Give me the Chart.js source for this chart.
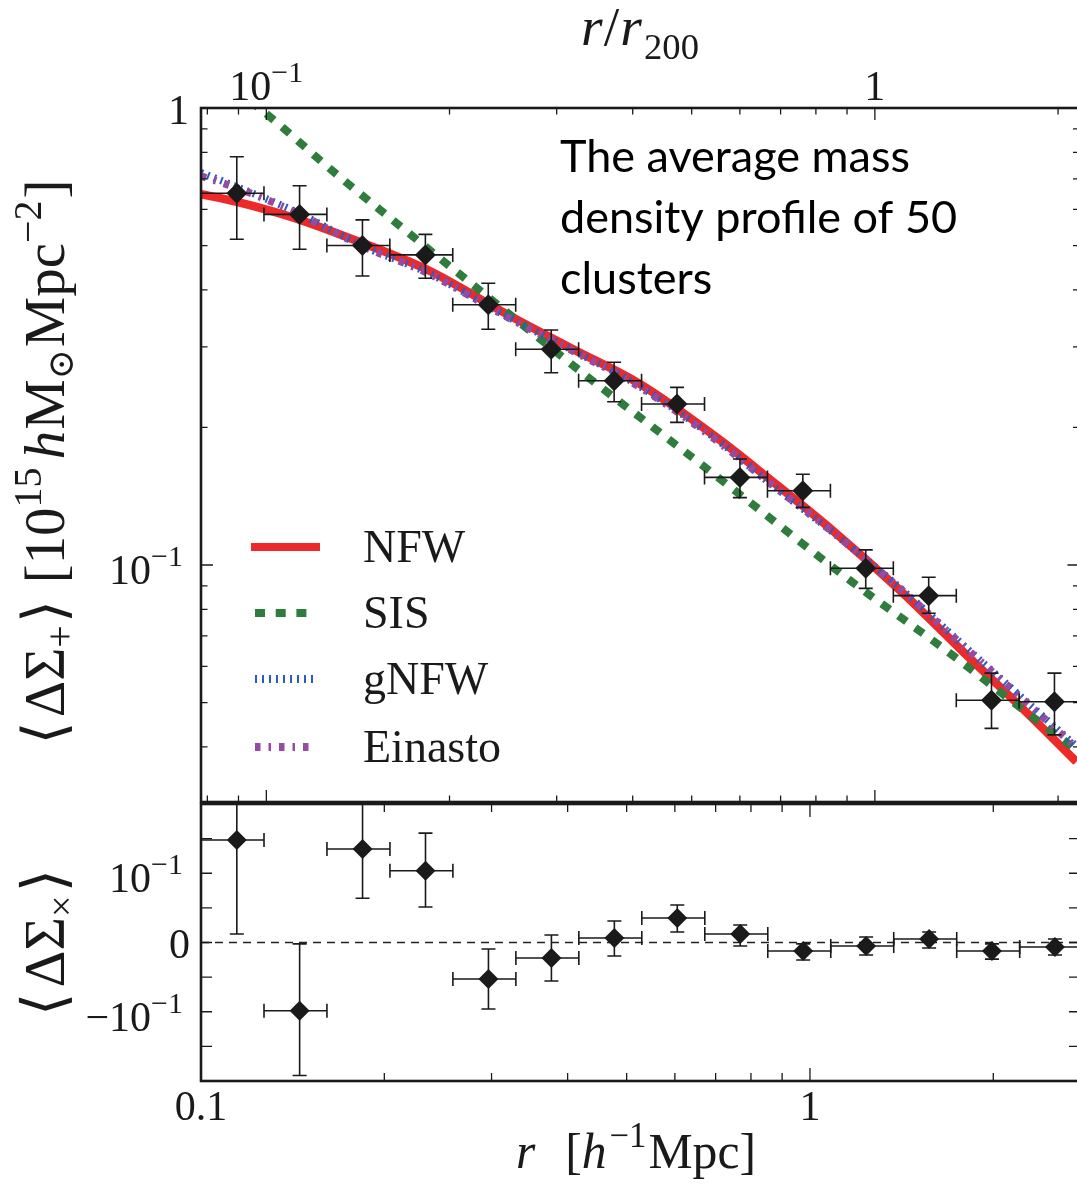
<!DOCTYPE html>
<html>
<head>
<meta charset="utf-8">
<script src="https://cdn.jsdelivr.net/npm/chart.js@4/dist/chart.umd.min.js"></script>
<style>
  html, body { margin: 0; padding: 0; background: #fff; overflow: hidden; }
  #wrap { position: relative; width: 1077px; height: 1187px; overflow: hidden; background: #fff; }
  #wrap canvas { position: absolute; left: 0; top: 0; }
</style>
</head>
<body>
<div id="wrap">
  <canvas id="topChart" width="1090" height="1187"></canvas>
  <canvas id="botChart" width="1090" height="1187"></canvas>
</div>
<script>
// ---------------- data ----------------
// radial bin edges [h^-1 Mpc]
const binEdges = [0.1, 0.1269, 0.1610, 0.2043, 0.2592, 0.3289, 0.4173, 0.5295, 0.6719, 0.8526, 1.0818, 1.3726, 1.7417, 2.2100, 2.8041];
// radius of each data point [h^-1 Mpc]
const radius = [0.1145, 0.1452, 0.1842, 0.2337, 0.2965, 0.3762, 0.4773, 0.6055, 0.7682, 0.9746, 1.2365, 1.569, 1.990, 2.525];
// <ΔΣ+>
const tangential     = [0.651, 0.585, 0.500, 0.477, 0.371, 0.2965, 0.253, 0.225, 0.1555, 0.1454, 0.0984, 0.0857, 0.0506, 0.0502];
const tangentialHigh = [0.782, 0.676, 0.569, 0.529, 0.4135, 0.3267, 0.2778, 0.2447, 0.1706, 0.158, 0.1079, 0.0940, 0.0580, 0.0580];
const tangentialLow  = [0.516, 0.491, 0.429, 0.424, 0.328, 0.2635, 0.2277, 0.2052, 0.1404, 0.1337, 0.0889, 0.0784, 0.0439, 0.0425];
// <ΔΣx>
const cross     = [0.148, -0.0985, 0.135, 0.1037, -0.0527, -0.0224, 0.0065, 0.0354, 0.0123, -0.0123, -0.005, 0.005, -0.0123, -0.0065];
const crossHigh = [0.284, -0.002, 0.206, 0.158, -0.0094, 0.0108, 0.031, 0.0542, 0.0253, -0.002, 0.008, 0.0152, -0.002, 0.005];
const crossLow  = [0.0123, -0.192, 0.064, 0.0513, -0.096, -0.0556, -0.0195, 0.0152, -0.005, -0.0253, -0.018, -0.008, -0.024, -0.018];

// model curves
const modelR   = [0.1, 0.1146, 0.1427, 0.1838, 0.2359, 0.318, 0.4081, 0.5259, 0.7115, 0.8499, 1.091, 1.405, 1.783, 2.324, 2.744];
const nfw      = [0.648, 0.623, 0.574, 0.507, 0.442, 0.354, 0.297, 0.249, 0.188, 0.156, 0.119, 0.0882, 0.0648, 0.0462, 0.0371];
const gnfw     = [0.722, 0.672, 0.594, 0.500, 0.436, 0.350, 0.295, 0.246, 0.186, 0.153, 0.118, 0.0893, 0.0670, 0.0489, 0.0401];
const einasto  = [0.710, 0.668, 0.592, 0.499, 0.435, 0.349, 0.294, 0.245, 0.185, 0.153, 0.118, 0.0891, 0.0668, 0.0487, 0.0398];
const sisR     = [0.1204, 0.1288, 0.166, 0.2122, 0.2904, 0.4239, 0.6185, 0.7966, 1.163, 1.698, 2.213, 2.744];
const sis      = [1.036, 0.965, 0.721, 0.552, 0.394, 0.263, 0.1785, 0.1374, 0.0927, 0.0642, 0.0489, 0.0394];

// axis ranges and ticks
const rRange = [0.1, 2.776];
const rScaledRange = [0.0781, 2.169];       // r / r200
const plusRange = [0.0303, 1];
const crossRange = [-0.2, 0.2];
const rMajor = [0.1, 1];
const rMinor = [0.2, 0.3, 0.4, 0.5, 0.6, 0.7, 0.8, 0.9, 2];
const rScaledMajor = [0.1, 1];
const rScaledMinor = [0.08, 0.09, 0.2, 0.3, 0.4, 0.5, 0.6, 0.7, 0.8, 0.9, 2];
const plusMajor = [1, 0.1];
const plusMinor = [0.04, 0.05, 0.06, 0.07, 0.08, 0.09, 0.2, 0.3, 0.4, 0.5, 0.6, 0.7, 0.8, 0.9];
const crossMajor = [0.1, 0, -0.1];
const crossMinor = [0.15, 0.05, -0.05, -0.15];
const legendLabels = ['NFW', 'SIS', 'gNFW', 'Einasto'];
const annotationLines = ['The average mass', 'density profile of 50', 'clusters'];

// ---------------- styles ----------------
const INK = '#1a1a1a';
const C_NFW = '#ec2a2a', C_SIS = '#2e7d3c', C_GNFW = '#2c5cc2', C_EIN = '#954ba1';
const SERIF = '"Liberation Serif", "DejaVu Serif", serif';
const fnt = (size, style) => (style ? style + ' ' : '') + size + 'px ' + SERIF;

// runs: {t, size, style, rise, gap}
function runsWidth(ctx, runs, k) {
  let w = 0;
  for (const r of runs) { ctx.font = fnt(r.size * k, r.style); w += ctx.measureText(r.t).width + (r.gap || 0) * k; }
  return w;
}
function drawRich(ctx, runs, x, y, align, target) {
  let k = 1;
  if (target) k = target / runsWidth(ctx, runs, 1);
  const w = runsWidth(ctx, runs, k);
  let cx = align === 'right' ? x - w : align === 'center' ? x - w / 2 : x;
  ctx.textAlign = 'left';
  ctx.textBaseline = 'alphabetic';
  for (const r of runs) {
    ctx.font = fnt(r.size * k, r.style);
    ctx.fillText(r.t, cx, y - (r.rise || 0) * k);
    cx += ctx.measureText(r.t).width + (r.gap || 0) * k;
  }
}
const supLabel = (base, exp) => [{ t: base, size: 42 }, { t: exp, size: 30, rise: 18 }];
const plainLabel = (t) => [{ t, size: 42 }];

function drawTicks(ctx, scale, values, len, side, area) {
  ctx.beginPath();
  for (const v of values) {
    const p = scale.getPixelForValue(v);
    if (side === 'left')   { ctx.moveTo(area.left, p);  ctx.lineTo(area.left + len, p); }
    if (side === 'right')  { ctx.moveTo(area.right, p); ctx.lineTo(area.right - len, p); }
    if (side === 'top')    { ctx.moveTo(p, area.top);   ctx.lineTo(p, area.top + len); }
    if (side === 'bottom') { ctx.moveTo(p, area.bottom); ctx.lineTo(p, area.bottom - len); }
  }
  ctx.stroke();
}

const errorBarPlugin = {
  id: 'errorBars',
  beforeDatasetDraw(chart, args) {
    const ds = chart.data.datasets[args.index];
    if (!ds.errorBars) return;
    const { ctx, chartArea: a } = chart;
    const xs = chart.scales.x, ys = chart.scales.y, e = ds.errorBars;
    ctx.save();
    ctx.beginPath(); ctx.rect(a.left, a.top, a.right - a.left, a.bottom - a.top); ctx.clip();
    ctx.strokeStyle = INK; ctx.lineWidth = 1.6;
    const cap = 7;
    ds.data.forEach((p, i) => {
      const px = xs.getPixelForValue(p.x), py = ys.getPixelForValue(p.y);
      const x0 = xs.getPixelForValue(e.xLo[i]), x1 = xs.getPixelForValue(e.xHi[i]);
      const y0 = ys.getPixelForValue(e.yLo[i]), y1 = ys.getPixelForValue(e.yHi[i]);
      ctx.beginPath();
      ctx.moveTo(x0, py); ctx.lineTo(x1, py);
      ctx.moveTo(px, y0); ctx.lineTo(px, y1);
      ctx.moveTo(x0, py - cap); ctx.lineTo(x0, py + cap);
      ctx.moveTo(x1, py - cap); ctx.lineTo(x1, py + cap);
      ctx.moveTo(px - cap, y0); ctx.lineTo(px + cap, y0);
      ctx.moveTo(px - cap, y1); ctx.lineTo(px + cap, y1);
      ctx.stroke();
    });
    ctx.restore();
  }
};

const topDecor = {
  id: 'topDecor',
  afterDraw(chart) {
    const { ctx, chartArea: a } = chart;
    const ys = chart.scales.y, xt = chart.scales.xTop;
    ctx.save();
    ctx.strokeStyle = INK; ctx.fillStyle = INK;
    ctx.lineWidth = 1.3;
    drawTicks(ctx, ys, plusMajor, 12, 'left', a);
    drawTicks(ctx, ys, plusMinor, 6.5, 'left', a);
    drawTicks(ctx, ys, plusMajor, 12, 'right', a);
    drawTicks(ctx, ys, plusMinor, 6.5, 'right', a);
    drawTicks(ctx, xt, rScaledMajor, 12, 'top', a);
    drawTicks(ctx, xt, rScaledMinor, 6.5, 'top', a);
    drawTicks(ctx, xt, rScaledMajor, 12, 'bottom', a);
    drawTicks(ctx, xt, rScaledMinor, 6.5, 'bottom', a);
    ctx.lineWidth = 2.6;
    ctx.strokeRect(a.left, a.top, a.right - a.left, a.bottom - a.top);
    // y tick labels
    drawRich(ctx, plainLabel('1'), a.left - 12, ys.getPixelForValue(1) + 16, 'right');
    drawRich(ctx, supLabel('10', '−1'), a.left - 18, ys.getPixelForValue(0.1) + 19, 'right');
    // top tick labels
    drawRich(ctx, supLabel('10', '−1'), xt.getPixelForValue(0.1), a.top - 8, 'center');
    drawRich(ctx, plainLabel('1'), xt.getPixelForValue(1), a.top - 8, 'center');
    // top axis title r/r200
    drawRich(ctx, [
      { t: 'r', size: 50, style: 'italic', gap: 1 },
      { t: '/', size: 50, gap: 1 },
      { t: 'r', size: 50, style: 'italic', gap: 2 },
      { t: '200', size: 33, rise: -13 }
    ], 640, 45, 'center', 118);
    // y axis title
    ctx.save();
    ctx.translate(64, 462);
    ctx.rotate(-Math.PI / 2);
    drawRich(ctx, [
      { t: '⟨', size: 56, gap: 4 },
      { t: 'ΔΣ', size: 54 },
      { t: '+', size: 38, rise: -9, gap: 2 },
      { t: '⟩', size: 56, gap: 16 },
      { t: '[10', size: 54 },
      { t: '15', size: 38, rise: 22, gap: 8 },
      { t: 'h', size: 54, style: 'italic', gap: 1 },
      { t: 'M', size: 54 },
      { t: '⊙', size: 34, rise: -9, gap: 2 },
      { t: 'Mpc', size: 54 },
      { t: '−2', size: 38, rise: 22, gap: 2 },
      { t: ']', size: 54 }
    ], 0, 0, 'center', 565);
    ctx.restore();
    // legend
    const rows = [547, 613, 679, 747];
    const styles = [
      { c: C_NFW, w: 8, d: [] },
      { c: C_SIS, w: 8, d: [10, 10.7] },
      { c: C_GNFW, w: 8, d: [2, 5] },
      { c: C_EIN, w: 8, d: [5.5, 8, 2.5, 8] }
    ];
    legendLabels.forEach((lab, i) => {
      const s = styles[i];
      ctx.save();
      ctx.strokeStyle = s.c; ctx.lineWidth = s.w; ctx.lineCap = 'butt';
      ctx.setLineDash(s.d);
      ctx.beginPath();
      ctx.moveTo(i === 0 ? 251 : 255, rows[i]);
      ctx.lineTo(i === 0 ? 320 : 313, rows[i]);
      ctx.stroke();
      ctx.restore();
      ctx.font = fnt(46); ctx.textAlign = 'left'; ctx.textBaseline = 'alphabetic';
      ctx.fillText(lab, 363, rows[i] + 15);
    });
    // annotation
    ctx.font = '45px Lato, "Open Sans", sans-serif';
    ctx.fillStyle = '#000';
    ctx.textAlign = 'left';
    annotationLines.forEach((t, i) => ctx.fillText(t, 560, 172 + i * 61));
    ctx.restore();
  }
};

const botDecor = {
  id: 'botDecor',
  afterDraw(chart) {
    const { ctx, chartArea: a } = chart;
    const xs = chart.scales.x, ys = chart.scales.y;
    ctx.save();
    ctx.strokeStyle = INK; ctx.fillStyle = INK;
    ctx.lineWidth = 1.3;
    drawTicks(ctx, ys, crossMajor, 11, 'left', a);
    drawTicks(ctx, ys, crossMinor, 11, 'left', a);
    drawTicks(ctx, ys, crossMajor, 11, 'right', a);
    drawTicks(ctx, ys, crossMinor, 11, 'right', a);
    drawTicks(ctx, xs, rMajor, 13, 'bottom', a);
    drawTicks(ctx, xs, rMinor, 8, 'bottom', a);
    drawTicks(ctx, xs, rMajor, 13, 'top', a);
    drawTicks(ctx, xs, rMinor, 8, 'top', a);
    ctx.lineWidth = 2.6;
    ctx.strokeRect(a.left, a.top, a.right - a.left, a.bottom - a.top);
    // y tick labels
    drawRich(ctx, supLabel('10', '−1'), a.left - 18, ys.getPixelForValue(0.1) + 19, 'right');
    drawRich(ctx, plainLabel('0'), a.left - 11, ys.getPixelForValue(0) + 15, 'right');
    drawRich(ctx, [{ t: '−', size: 42 }].concat(supLabel('10', '−1')), a.left - 18, ys.getPixelForValue(-0.1) + 19, 'right');
    // x tick labels
    drawRich(ctx, plainLabel('0.1'), xs.getPixelForValue(0.1), 1120, 'center');
    drawRich(ctx, plainLabel('1'), xs.getPixelForValue(1), 1120, 'center');
    // x axis title
    drawRich(ctx, [
      { t: 'r', size: 50, style: 'italic', gap: 30 },
      { t: '[', size: 50 },
      { t: 'h', size: 50, style: 'italic', gap: 3 },
      { t: '−1', size: 35, rise: 21, gap: 2 },
      { t: 'Mpc]', size: 50 }
    ], 636, 1168, 'center', 240);
    // y axis title
    ctx.save();
    ctx.translate(64, (a.top + a.bottom) / 2);
    ctx.rotate(-Math.PI / 2);
    drawRich(ctx, [
      { t: '⟨', size: 56, gap: 5 },
      { t: 'ΔΣ', size: 54 },
      { t: '×', size: 36, rise: -9, gap: 3 },
      { t: '⟩', size: 56 }
    ], 0, 0, 'center', 147);
    ctx.restore();
    ctx.restore();
  }
};

function pts(xs, ys) { return xs.map((x, i) => ({ x, y: ys[i] })); }
function lineDs(label, xs, ys, color, width, dash, order) {
  return {
    label, data: pts(xs, ys), showLine: true, pointRadius: 0, pointHoverRadius: 0,
    borderColor: color, borderWidth: width, borderDash: dash, borderCapStyle: 'butt',
    cubicInterpolationMode: 'monotone', fill: false, order, clip: 0
  };
}

Chart.defaults.animation = false;

new Chart(document.getElementById('topChart'), {
  type: 'scatter',
  data: {
    datasets: [
      {
        label: 'stacked ΔΣ+', data: pts(radius, tangential), order: 0,
        pointStyle: 'rectRot', pointRadius: 10.5, pointHoverRadius: 10.5,
        backgroundColor: INK, borderColor: INK, pointBorderWidth: 0,
        errorBars: { xLo: binEdges.slice(0, -1), xHi: binEdges.slice(1), yLo: tangentialLow, yHi: tangentialHigh }
      },
      lineDs('Einasto', modelR, einasto, C_EIN, 7.5, [5.5, 8, 2.5, 8], 1),
      lineDs('gNFW', modelR, gnfw, C_GNFW, 7.5, [2, 5], 2),
      lineDs('SIS', sisR, sis, C_SIS, 8, [10, 10.7], 3),
      lineDs('NFW', modelR, nfw, C_NFW, 8.5, [], 4)
    ]
  },
  options: {
    responsive: false, animation: false, events: [],
    layout: { padding: { left: 201, top: 108, right: 10, bottom: 1187 - 802 } },
    plugins: { legend: { display: false }, tooltip: { enabled: false } },
    scales: {
      x: { type: 'logarithmic', min: rRange[0], max: rRange[1], display: false },
      xTop: { type: 'logarithmic', axis: 'x', position: 'top', min: rScaledRange[0], max: rScaledRange[1], display: false },
      y: { type: 'logarithmic', min: plusRange[0], max: plusRange[1], display: false }
    }
  },
  plugins: [errorBarPlugin, topDecor]
});

new Chart(document.getElementById('botChart'), {
  type: 'scatter',
  data: {
    datasets: [
      {
        label: 'stacked ΔΣx', data: pts(radius, cross), order: 0,
        pointStyle: 'rectRot', pointRadius: 10, pointHoverRadius: 10,
        backgroundColor: INK, borderColor: INK, pointBorderWidth: 0,
        errorBars: { xLo: binEdges.slice(0, -1), xHi: binEdges.slice(1), yLo: crossLow, yHi: crossHigh }
      },
      {
        label: 'zero', data: pts(rRange, [0, 0]), showLine: true, pointRadius: 0,
        borderColor: '#222', borderWidth: 1.3, borderDash: [8, 6], order: 1, clip: 0
      }
    ]
  },
  options: {
    responsive: false, animation: false, events: [],
    layout: { padding: { left: 201, top: 804, right: 10, bottom: 1187 - 1081 } },
    plugins: { legend: { display: false }, tooltip: { enabled: false } },
    scales: {
      x: { type: 'logarithmic', min: rRange[0], max: rRange[1], display: false },
      y: { type: 'linear', min: crossRange[0], max: crossRange[1], display: false }
    }
  },
  plugins: [errorBarPlugin, botDecor]
});
</script>
</body>
</html>
